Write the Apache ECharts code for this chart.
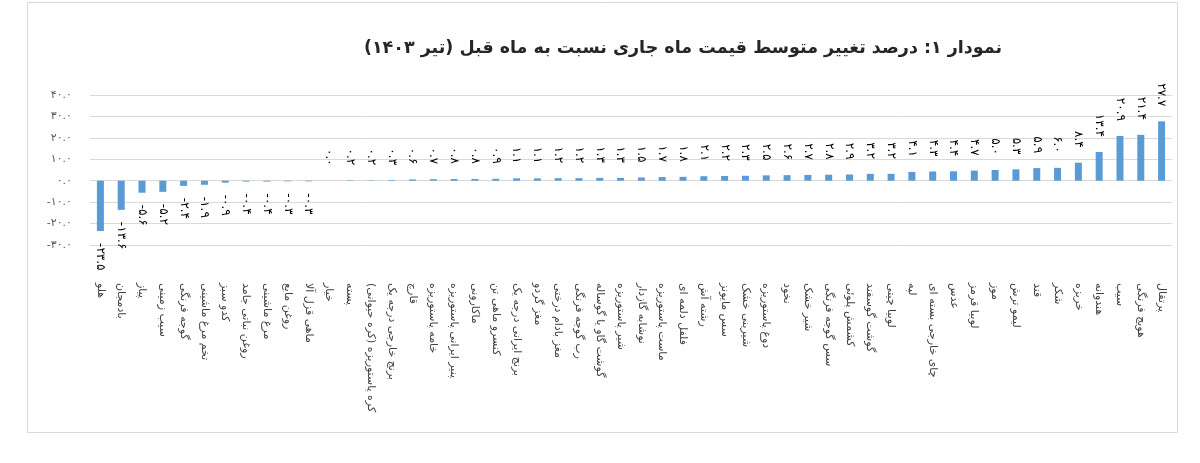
<!DOCTYPE html>
<html><head><meta charset="utf-8">
<script src="https://cdn.jsdelivr.net/npm/echarts@6/dist/echarts.min.js"></script>
<style>html,body{margin:0;padding:0;background:#fff}#c{width:1200px;height:463px}</style>
</head><body><div id="c"></div>
<script>
const titleText = 'نمودار ۱: درصد تغییر متوسط قیمت ماه جاری نسبت به ماه قبل (تیر ۱۴۰۳)';
const categories = [
  'هلو','بادمجان','پیاز','سیب زمینی','گوجه فرنگی','تخم مرغ ماشینی','کدو سبز','روغن نباتی جامد','مرغ ماشینی','روغن مایع',
  'ماهی قزل آلا','خیار','پسته','کره پاستوریزه (کره حیوانی)','برنج خارجی درجه یک','قارچ','خامه پاستوریزه','پنیر ایرانی پاستوریزه','ماکارونی','کنسرو ماهی تن',
  'برنج ایرانی درجه یک','مغز گردو','مغز بادام درختی','رب گوجه فرنگی','گوشت گاو یا گوساله','شیر پاستوریزه','نوشابه گازدار','ماست پاستوریزه','فلفل دلمه ای','رشته آش',
  'سس مایونز','شیرینی خشک','دوغ پاستوریزه','نخود','شیر خشک','سس گوجه فرنگی','کشمش پلوئی','گوشت گوسفند','لوبیا چیتی','لپه',
  'چای خارجی بسته ای','عدس','لوبیا قرمز','موز','لیمو ترش','قند','شکر','خربزه','هندوانه','سیب',
  'هویج فرنگی','پرتقال'
];
const values = [
  -23.5,-13.6,-5.6,-5.2,-2.4,-1.9,-0.9,-0.4,-0.4,-0.3,
  -0.3,0.0,0.2,0.2,0.3,0.6,0.7,0.8,0.8,0.9,
  1.1,1.1,1.2,1.2,1.3,1.3,1.5,1.7,1.8,2.1,
  2.2,2.3,2.5,2.6,2.7,2.8,2.9,3.2,3.2,4.1,
  4.3,4.4,4.7,5.0,5.3,5.9,6.0,8.4,13.4,20.9,
  21.4,27.7
];
const yMin = -30, yMax = 40, yStep = 10;

const fa = s => String(s).replace(/[0-9]/g, d => '۰۱۲۳۴۵۶۷۸۹'[d]);
const FONT = '"DejaVu Sans", "Noto Sans", sans-serif';
const chart = echarts.init(document.getElementById('c'), null, {renderer: 'canvas'});
chart.setOption({
  animation: false,
  graphic: [
    {type: 'rect', silent: true, shape: {x: 27.5, y: 2.5, width: 1150, height: 430},
     style: {fill: 'none', stroke: '#d9d9d9', lineWidth: 1}},
    {type: 'text', silent: true, x: 683, y: 48,
     style: {text: '\u202B' + titleText + '\u202C', font: 'bold 17.5px ' + FONT, fill: '#262626',
             align: 'center', verticalAlign: 'middle'}}
  ],
  grid: {left: 90, right: 28, top: 95, bottom: 218},
  xAxis: {
    type: 'category', data: categories,
    axisLine: {show: false, onZero: false}, axisTick: {show: false},
    axisLabel: {interval: 0, rotate: -90, margin: 38, fontSize: 11, color: '#404040', fontFamily: FONT,
                formatter: v => '\u200F' + v + '\u200F'}
  },
  yAxis: {
    type: 'value', min: yMin, max: yMax, interval: yStep,
    axisLabel: {formatter: v => fa(v.toFixed(1)), fontSize: 11, color: '#595959', margin: 18, fontFamily: FONT},
    splitLine: {lineStyle: {color: '#d9d9d9'}}, axisLine: {show: false}, axisTick: {show: false}
  },
  series: [{
    type: 'bar', barWidth: 7, itemStyle: {color: '#5B9BD5'},
    data: values.map(v => ({
      value: v,
      label: v < 0 ? {position: 'bottom', align: 'left', distance: 12}
                   : {position: 'top', align: 'right', distance: 15}
    })),
    label: {show: true, rotate: -90, verticalAlign: 'middle', fontSize: 12, color: '#000', fontFamily: FONT,
            formatter: p => fa(Number(p.value).toFixed(1))}
  }]
});
</script></body></html>
